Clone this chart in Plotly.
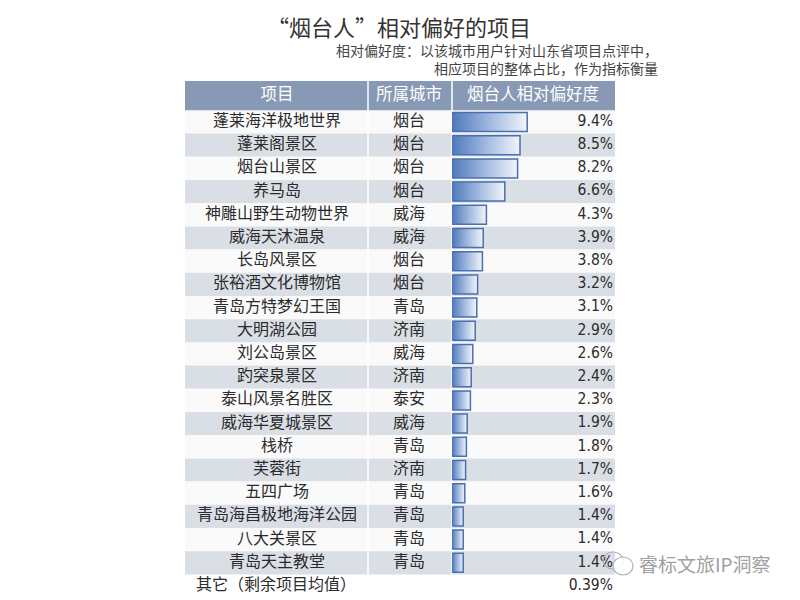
import plotly.graph_objects as go

items = ["蓬莱海洋极地世界", "蓬莱阁景区", "烟台山景区", "养马岛", "神雕山野生动物世界",
         "威海天沐温泉", "长岛风景区", "张裕酒文化博物馆", "青岛方特梦幻王国", "大明湖公园",
         "刘公岛景区", "趵突泉景区", "泰山风景名胜区", "威海华夏城景区", "栈桥",
         "芙蓉街", "五四广场", "青岛海昌极地海洋公园", "八大关景区", "青岛天主教堂"]
cities = ["烟台", "烟台", "烟台", "烟台", "威海", "威海", "烟台", "烟台", "青岛", "济南",
          "威海", "济南", "泰安", "威海", "青岛", "济南", "青岛", "青岛", "青岛", "青岛"]
values = [9.4, 8.5, 8.2, 6.6, 4.3, 3.9, 3.8, 3.2, 3.1, 2.9,
          2.6, 2.4, 2.3, 1.9, 1.8, 1.7, 1.6, 1.4, 1.4, 1.4]
headers = ["项目", "所属城市", "烟台人相对偏好度"]
other_label = "其它（剩余项目均值）"
other_value = 0.39
title = "“烟台人”相对偏好的项目"
subtitle = "相对偏好度：以该城市用户针对山东省项目点评中，<br>相应项目的整体占比，作为指标衡量"
watermark = "睿标文旅IP洞察"

CJK = "Noto Sans CJK SC"
NUM = "Liberation Sans Narrow, DejaVu Sans Condensed, Liberation Sans, Arial"
TXT = "#2b2b2b"

# page body has an 8px margin: the figure occupies window pixels 8..800 / 8..600
OFF = 8
W, H = 800 - OFF, 600 - OFF

n = len(items)
rows = list(range(n))
y0px, dy = 122.0, 23.2          # row i centre at window pixel 122 + 23.2*i


def py(p):
    return (p - y0px) / dy


fig = go.Figure()

TL, TR = 185, 615
C1, C2 = 368, 452

shapes = []
shapes.append(dict(type="rect", xref="x", yref="y", x0=TL, x1=TR,
                   y0=py(81), y1=-0.5, fillcolor="#8799b4", line_width=0, layer="below"))
for i in rows:
    col = "#dadee5" if i % 2 == 1 else "#fafafa"
    shapes.append(dict(type="rect", xref="x", yref="y", x0=TL, x1=TR, y0=i - 0.5, y1=i + 0.5,
                       fillcolor=col, line_width=0, layer="below"))
for cx in (C1, C2):
    shapes.append(dict(type="line", xref="x", yref="y", x0=cx, x1=cx,
                       y0=py(81), y1=n - 0.5, line=dict(color="white", width=1.5), layer="below"))
# wechat-like icon
shapes.append(dict(type="circle", xref="x", yref="y", x0=603, x1=623,
                   y0=py(552), y1=py(569), line=dict(color="#b0b0b0", width=1.2)))
shapes.append(dict(type="circle", xref="x", yref="y", x0=613, x1=633,
                   y0=py(557), y1=py(575), line=dict(color="#b0b0b0", width=1.2),
                   fillcolor="rgba(255,255,255,0.85)"))

for i, v in zip(rows, values):
    h = 0.41
    fig.add_trace(go.Scatter(
        x=[0, v, v, 0, 0], y=[i - h, i - h, i + h, i + h, i - h],
        xaxis="x2", yaxis="y", mode="lines", fill="toself",
        fillgradient=dict(type="horizontal",
                          colorscale=[[0, "#4e78bd"], [0.55, "#a9bfe2"], [1, "#f2f5fb"]]),
        line=dict(color="#4a6fb0", width=1.5),
        hoverinfo="skip", showlegend=False))

fig.add_trace(go.Scatter(x=[277] * n, y=rows, text=items, mode="text",
                         textfont=dict(family=CJK, size=16, color=TXT),
                         textposition="middle center", showlegend=False, hoverinfo="skip"))
fig.add_trace(go.Scatter(x=[409] * n, y=rows, text=cities, mode="text",
                         textfont=dict(family=CJK, size=16, color=TXT),
                         textposition="middle center", showlegend=False, hoverinfo="skip"))
fig.add_trace(go.Scatter(x=[613] * n, y=rows, text=[f"{v:.1f}%" for v in values], mode="text",
                         textfont=dict(family=NUM, size=15.5, color=TXT),
                         textposition="middle left", showlegend=False, hoverinfo="skip"))
fig.add_trace(go.Scatter(x=[196], y=[n], text=[other_label], mode="text",
                         textfont=dict(family=CJK, size=16, color=TXT),
                         textposition="middle right", showlegend=False, hoverinfo="skip"))
fig.add_trace(go.Scatter(x=[613], y=[n], text=[f"{other_value:.2f}%"], mode="text",
                         textfont=dict(family=NUM, size=15.5, color=TXT),
                         textposition="middle left", showlegend=False, hoverinfo="skip"))
fig.add_trace(go.Scatter(x=[277, 409, 533], y=[py(96)] * 3, text=headers, mode="text",
                         textfont=dict(family=CJK, size=16.5, color="white"),
                         textposition="middle center", showlegend=False, hoverinfo="skip"))

annotations = [
    dict(text=title, xref="x", yref="paper", x=399, y=1.0, showarrow=False,
         font=dict(family=CJK, size=22, color="#333333"), xanchor="center", yanchor="top"),
    dict(text=subtitle, xref="x", yref="y", x=660, y=py(59), showarrow=False,
         font=dict(family=CJK, size=14, color="#444444"), xanchor="right", yanchor="middle",
         align="right"),
    dict(text=watermark, xref="x", yref="y", x=637, y=py(563), showarrow=False,
         font=dict(family=CJK, size=19, color="#a0a0a0"), xanchor="left", yanchor="middle"),
]

fig.update_layout(
    width=W, height=H,
    margin=dict(l=0, r=0, t=0, b=0),
    paper_bgcolor="white", plot_bgcolor="rgba(0,0,0,0)",
    shapes=shapes, annotations=annotations,
    xaxis=dict(domain=[0, 1], range=[OFF, 800], visible=False, fixedrange=True),
    xaxis2=dict(domain=[(452 - OFF) / W, 1], range=[0, (800 - 452) / 8.0], visible=False,
                anchor="y", fixedrange=True),
    yaxis=dict(domain=[0, 1], range=[py(600), py(OFF)], visible=False, fixedrange=True),
    showlegend=False,
)

fig.write_html("out.html")
